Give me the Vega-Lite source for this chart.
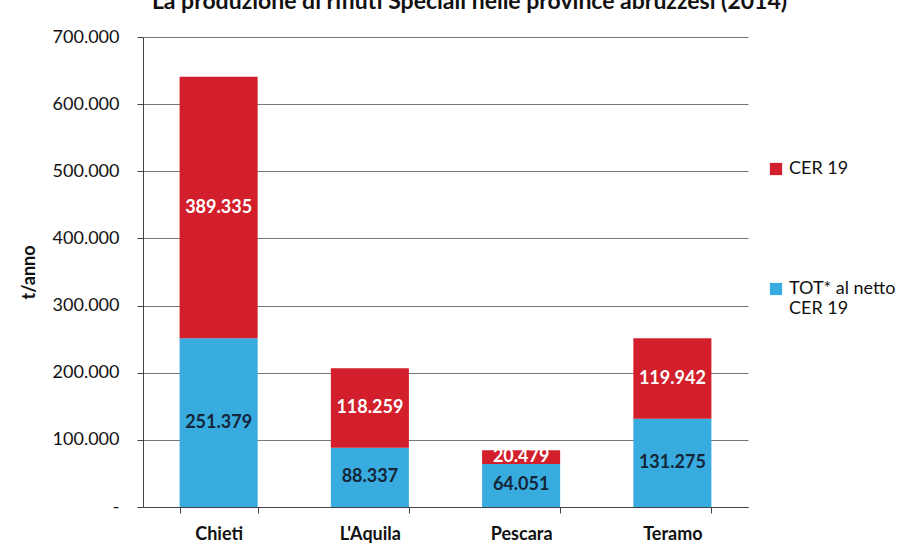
{
  "$schema": "https://vega.github.io/schema/vega-lite/v6.json",
  "autosize": {"type": "none"},
  "width": 605,
  "height": 470,
  "padding": {"left": 143, "top": 37, "right": 168, "bottom": 43},
  "background": "white",
  "title": {
    "text": "La produzione di rifiuti Speciali nelle province abruzzesi (2014)",
    "anchor": "middle",
    "offset": 14,
    "dx": 24,
    "font": "Lato",
    "fontSize": 23,
    "fontWeight": "bold",
    "color": "#111"
  },
  "config": {
    "locale": {"number": {"decimal": ",", "thousands": ".", "grouping": [3], "currency": ["€", ""]}},
    "view": {"stroke": null},
    "font": "Lato"
  },
  "data": {
    "values": [
      {"provincia": "Chieti", "serie": "TOT* al netto CER 19", "ord": 1, "valore": 251379},
      {"provincia": "Chieti", "serie": "CER 19", "ord": 2, "valore": 389335},
      {"provincia": "L'Aquila", "serie": "TOT* al netto CER 19", "ord": 1, "valore": 88337},
      {"provincia": "L'Aquila", "serie": "CER 19", "ord": 2, "valore": 118259},
      {"provincia": "Pescara", "serie": "TOT* al netto CER 19", "ord": 1, "valore": 64051},
      {"provincia": "Pescara", "serie": "CER 19", "ord": 2, "valore": 20479},
      {"provincia": "Teramo", "serie": "TOT* al netto CER 19", "ord": 1, "valore": 131275},
      {"provincia": "Teramo", "serie": "CER 19", "ord": 2, "valore": 119942}
    ]
  },
  "transform": [
    {"stack": "valore", "groupby": ["provincia"], "sort": [{"field": "ord", "order": "ascending"}], "as": ["v0", "v1"]}
  ],
  "layer": [
    {
      "mark": {"type": "bar"},
      "encoding": {
        "x": {
          "field": "provincia",
          "type": "nominal",
          "sort": null,
          "scale": {"paddingInner": 0.484, "paddingOuter": 0.242},
          "axis": {
            "title": null,
            "labelAngle": 0,
            "labelFont": "Lato",
            "labelFontSize": 18,
            "labelFontWeight": "bold",
            "labelColor": "#111",
            "labelPadding": 12,
            "tickBand": "extent",
            "tickSize": 6,
            "tickColor": "#444",
            "domainColor": "#444",
            "grid": false
          }
        },
        "y": {
          "field": "v0",
          "type": "quantitative",
          "scale": {"domain": [0, 700000], "nice": false},
          "axis": {
            "title": "t/anno",
            "titleFont": "Lato",
            "titleFontSize": 18,
            "titleFontWeight": "bold",
            "titleColor": "#111",
            "titlePadding": 14,
            "values": [0, 100000, 200000, 300000, 400000, 500000, 600000, 700000],
            "labelExpr": "datum.value == 0 ? '-' : format(datum.value, ',')",
            "labelFont": "Lato",
            "labelFontSize": 18,
            "labelColor": "#111",
            "labelPadding": 18,
            "tickSize": 6,
            "tickColor": "#444",
            "domainColor": "#444",
            "grid": true,
            "gridColor": "#777",
            "gridWidth": 1
          }
        },
        "y2": {"field": "v1"},
        "color": {
          "field": "serie",
          "type": "nominal",
          "scale": {"domain": ["CER 19", "TOT* al netto CER 19"], "range": ["#d21f2b", "#38acdf"]},
          "legend": {
            "title": null,
            "orient": "none",
            "legendX": 624,
            "legendY": 123,
            "symbolType": "square",
            "symbolSize": 150,
            "symbolStrokeWidth": 0,
            "labelFont": "Lato",
            "labelFontSize": 18,
            "labelColor": "#111",
            "labelOffset": 4,
            "rowPadding": 102,
            "labelExpr": "datum.label == 'CER 19' ? 'CER 19' : ['TOT* al netto', 'CER 19']"
          }
        }
      }
    },
    {
      "transform": [
        {"fold": ["v0", "v1"], "as": ["estremo", "pos"]},
        {"aggregate": [{"op": "mean", "field": "pos", "as": "centro"}], "groupby": ["provincia", "serie", "valore"]}
      ],
      "mark": {"type": "text", "font": "Lato", "fontSize": 18, "fontWeight": "bold", "baseline": "middle"},
      "encoding": {
        "x": {"field": "provincia", "type": "nominal", "sort": null},
        "y": {"field": "centro", "type": "quantitative"},
        "text": {"field": "valore", "type": "quantitative", "format": ","},
        "color": {
          "condition": {"test": "datum.serie == 'CER 19'", "value": "#ffffff"},
          "value": "#15263a"
        }
      }
    }
  ]
}
